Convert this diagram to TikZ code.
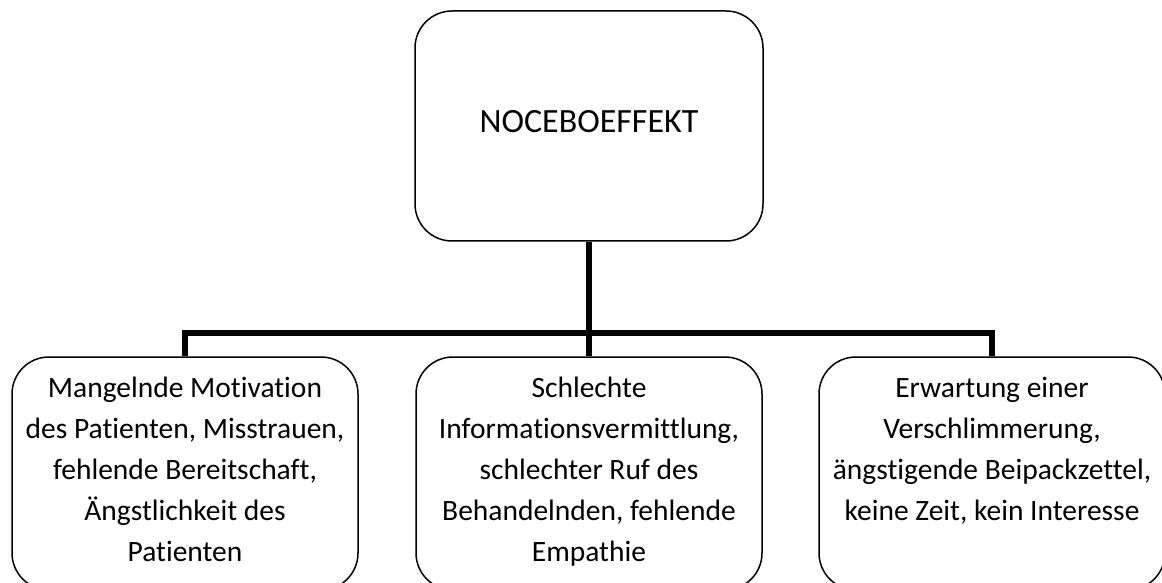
\documentclass[tikz,border=0pt]{standalone}
\usepackage{fontspec}
\setmainfont[Ligatures=NoCommon]{Carlito}
\newcommand{\causetext}[1]{\parbox[c][233pt][t]{346pt}{\centering\fontsize{29.5}{41}\selectfont\rule{0pt}{40pt}#1}}
\begin{document}
\begin{tikzpicture}[x=1pt,y=1pt,
  block/.style={draw, line width=1.5pt, rounded corners=37pt, minimum width=346pt, minimum height=233pt, inner sep=0pt},
  link/.style={line width=6pt, line join=miter}]

\useasboundingbox (0,0) rectangle (1162,582);
\clip (0,0) rectangle (1162,582);

%верхний блок
\node[block, minimum width=348pt, minimum height=230pt, text depth=10pt, font=\fontsize{34}{40}\selectfont] (top) at (589,456) {NOCEBOEFFEKT};

%нижние блоки
\node[block] (cause1) at (185,108.5) {\causetext{Mangelnde Motivation\\ des Patienten, Misstrauen,\\ fehlende Bereitschaft,\\ Ängstlichkeit des\\ Patienten}};
\node[block] (cause2) at (589,108.5) {\causetext{Schlechte\\ Informationsvermittlung,\\ schlechter Ruf des\\ Behandelnden, fehlende\\ Empathie}};
\node[block] (cause3) at (992,108.5) {\causetext{Erwartung einer\\ Verschlimmerung,\\ ängstigende Beipackzettel,\\ keine Zeit, kein Interesse}};

%связи
\coordinate (bus) at (589,249);
\draw[link] (top.south) -- (cause2.north);
\draw[link] (cause1.north) |- (bus) -| (cause3.north);

\end{tikzpicture}
\end{document}
